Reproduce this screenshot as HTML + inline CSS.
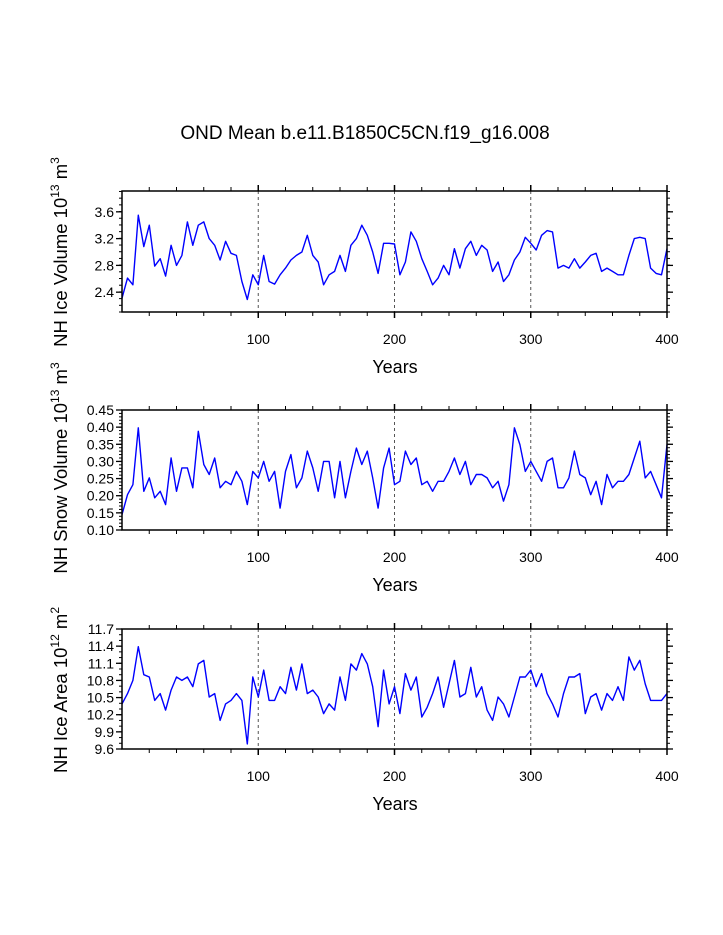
<!DOCTYPE html>
<html><head><meta charset="utf-8"><style>
body{margin:0;background:#fff;}
svg{display:block;font-family:"Liberation Sans",Arial,sans-serif;}
</style></head><body>
<svg id="c" width="723" height="935">
<text x="365" y="139" font-size="19" text-anchor="middle">OND Mean b.e11.B1850C5CN.f19_g16.008</text>
</svg>
<script>
const years = [];
for (let i = 0; i <= 100; i++) years.push(i * 4);
const iceVolume = [2.31,2.61,2.51,3.55,3.08,3.40,2.79,2.90,2.64,3.10,2.80,2.95,3.45,3.10,3.40,3.45,3.20,3.10,2.88,3.16,2.98,2.95,2.56,2.29,2.66,
2.51,2.95,2.56,2.52,2.66,2.76,2.88,2.95,3.00,3.25,2.95,2.85,2.51,2.66,2.71,2.95,2.71,3.10,3.20,3.40,3.25,3.00,2.68,3.13,3.13,
3.12,2.66,2.85,3.30,3.16,2.90,2.71,2.51,2.61,2.80,2.66,3.05,2.76,3.05,3.16,2.95,3.10,3.03,2.71,2.85,2.56,2.66,2.88,3.00,3.22,
3.13,3.03,3.25,3.32,3.30,2.76,2.80,2.76,2.90,2.76,2.85,2.95,2.98,2.71,2.76,2.71,2.66,2.66,2.95,3.20,3.22,3.20,2.76,2.68,2.66,3.05];
const snowVolume = [0.145,0.203,0.232,0.398,0.213,0.252,0.194,0.213,0.174,0.310,0.213,0.281,0.281,0.223,0.388,0.291,0.262,0.310,0.223,0.242,0.232,0.271,0.242,0.174,0.271,
0.252,0.300,0.242,0.271,0.164,0.271,0.320,0.223,0.252,0.330,0.281,0.213,0.300,0.300,0.194,0.300,0.194,0.271,0.339,0.291,0.330,0.252,0.164,0.281,0.339,
0.232,0.242,0.330,0.291,0.310,0.232,0.242,0.213,0.242,0.242,0.271,0.310,0.262,0.300,0.232,0.262,0.262,0.252,0.223,0.242,0.184,0.232,0.398,0.349,0.271,
0.300,0.271,0.242,0.300,0.310,0.223,0.223,0.252,0.330,0.262,0.252,0.203,0.242,0.174,0.262,0.223,0.242,0.242,0.262,0.310,0.359,0.252,0.271,0.232,0.194,0.349];
const iceArea = [10.39,10.57,10.80,11.39,10.90,10.86,10.45,10.57,10.28,10.63,10.86,10.80,10.86,10.69,11.09,11.15,10.51,10.57,10.10,10.39,10.45,10.57,10.45,9.69,10.86,
10.51,10.98,10.45,10.45,10.69,10.57,11.03,10.63,11.09,10.57,10.63,10.51,10.22,10.39,10.28,10.86,10.45,11.09,10.98,11.27,11.09,10.69,9.99,10.98,10.39,
10.69,10.22,10.92,10.63,10.86,10.16,10.33,10.57,10.86,10.33,10.74,11.15,10.51,10.57,11.03,10.51,10.69,10.28,10.10,10.51,10.39,10.16,10.51,10.86,10.86,
10.98,10.69,10.92,10.57,10.39,10.16,10.57,10.86,10.86,10.92,10.22,10.51,10.57,10.28,10.57,10.45,10.69,10.45,11.21,10.98,11.15,10.74,10.45,10.45,10.45,10.57];
const xTicks = [100,200,300,400];
const ice1Ticks = ["2.4","2.8","3.2","3.6"];
const snowTicks = ["0.10","0.15","0.20","0.25","0.30","0.35","0.40","0.45"];
const areaTicks = ["9.6","9.9","10.2","10.5","10.8","11.1","11.4","11.7"];

const NS = "http://www.w3.org/2000/svg";
const svg = document.getElementById('c');
function mk(tag, attrs, parent){const e=document.createElementNS(NS,tag);for(const k in attrs)e.setAttribute(k,attrs[k]);(parent||svg).appendChild(e);return e;}

const X0=122, X1=667;
function xs(yr){return X0+(X1-X0)*yr/400;}

function panel(top,bottom,ymin,ymax,ticks,minorStep,data,name,labelParts,labelCx,labelCy){
  const g=mk('g',{});
  
  
  const ys=v=>bottom-(v-ymin)/(ymax-ymin)*(bottom-top);
  xTicks.slice(0,3).forEach(t=>{
    const l=mk('line',{x1:xs(t),x2:xs(t),y1:top,y2:bottom,stroke:'#555','stroke-width':1,'stroke-dasharray':'3,3'},g);
    
    
  });
  for(let t=20;t<=400;t+=20){
    const maj=t%100===0;const len=maj?6:4;
    mk('line',{x1:xs(t),x2:xs(t),y1:top,y2:top-len,stroke:'#000','stroke-width':maj?1.5:1},g);
    mk('line',{x1:xs(t),x2:xs(t),y1:bottom,y2:bottom+len,stroke:'#000','stroke-width':maj?1.5:1},g);
  }
  xTicks.forEach(t=>{
    const tx=mk('text',{x:xs(t),y:bottom+32,'font-size':14,'text-anchor':'middle'},g);
    tx.textContent=t;
    
    
  });
  const n=Math.round((ymax-ymin)/minorStep);
  for(let i=0;i<=n;i++){
    const v=ymin+i*minorStep;const y=ys(v);
    mk('line',{x1:X0,x2:X0-3,y1:y,y2:y,stroke:'#000','stroke-width':1},g);
    mk('line',{x1:X1,x2:X1+3,y1:y,y2:y,stroke:'#000','stroke-width':1},g);
  }
  ticks.forEach(s=>{
    const v=parseFloat(s);const y=ys(v);
    mk('line',{x1:X0,x2:X0-6,y1:y,y2:y,stroke:'#000','stroke-width':1.3},g);
    mk('line',{x1:X1,x2:X1+6,y1:y,y2:y,stroke:'#000','stroke-width':1.3},g);
    const tx=mk('text',{x:X0-8,y:y+5,'font-size':14,'text-anchor':'end'},g);
    tx.textContent=s;
    
    
  });
  const pts=years.map((yr,i)=>xs(yr).toFixed(1)+','+ys(data[i]).toFixed(1)).join(' ');
  const pl=mk('polyline',{points:pts,fill:'none',stroke:'#0000ff','stroke-width':1.4,'stroke-linejoin':'round'},g);
  
  
  const fr=mk('rect',{x:X0,y:top,width:X1-X0,height:bottom-top,fill:'none',stroke:'#000','stroke-width':1.5},g);
  
  
  const xt=mk('text',{x:395,y:bottom+61,'font-size':18,'text-anchor':'middle'},g);
  xt.textContent='Years';
  
  
  const yt=mk('text',{x:0,y:0,'font-size':18.5,'text-anchor':'middle',transform:'translate('+labelCx+','+labelCy+') rotate(-90)'},g);
  
  
  labelParts.forEach(p=>{
    const ts=mk('tspan',p.sup?{'font-size':12,dy:-8}:{dy:p.down?8:0},yt);
    ts.textContent=p.t;
  });
}
panel(191,312,2.104,3.911,ice1Ticks,0.1,iceVolume,'ice-volume',
  [{t:'NH Ice Volume 10'},{t:'13',sup:true},{t:' m',down:true},{t:'3',sup:true}],67,252);
panel(410,530,0.10,0.45,snowTicks,0.01,snowVolume,'snow-volume',
  [{t:'NH Snow Volume 10'},{t:'13',sup:true},{t:' m',down:true},{t:'3',sup:true}],67,468);
panel(629,749,9.6,11.7,areaTicks,0.1,iceArea,'ice-area',
  [{t:'NH Ice Area 10'},{t:'12',sup:true},{t:' m',down:true},{t:'2',sup:true}],67,690);
</script>
</body></html>
